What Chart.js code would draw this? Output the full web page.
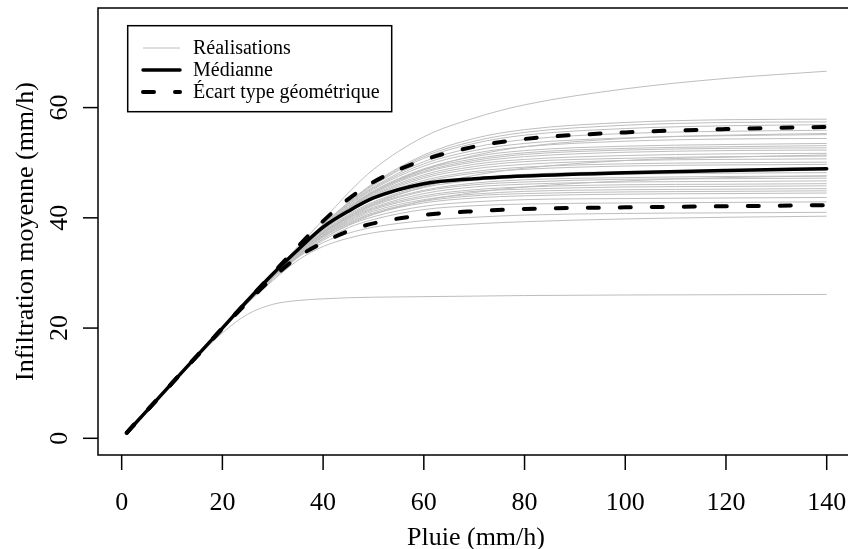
<!DOCTYPE html>
<html><head><meta charset="utf-8">
<script src="https://cdn.jsdelivr.net/npm/chart.js@4.4.0/dist/chart.umd.min.js"></script>
<style>html,body{margin:0;padding:0;background:#fff;}canvas{display:block;}</style>
</head><body>
<canvas id="c" width="848" height="549"></canvas>
<script>
// Pluie (mm/h) — abscissa grid shared by every curve
const pluie = [1, 10, 20, 25, 30, 35, 40, 45, 50, 60, 70, 80, 100, 120, 140];

// Médianne and geometric standard deviation envelope
const mediane  = [1, 10, 20, 25, 29.8, 34.2, 38.3, 41.2, 43.6, 46.2, 47.1, 47.6, 48.2, 48.6, 48.9];
const ecartSup = [1, 10, 20, 25, 29.9, 34.8, 39.4, 43.4, 46.5, 50.5, 52.9, 54.3, 55.5, 56.1, 56.5];
const ecartInf = [1, 10, 19.9, 24.7, 29.1, 32.9, 35.5, 37.6, 39.0, 40.5, 41.2, 41.6, 41.9, 42.1, 42.3];

// Réalisations (individual simulated curves)
const r01 = [1, 10, 20, 25, 29.9, 34.8, 39.6, 44.5, 48.8, 54.7, 58.1, 60.5, 63.4, 65.3, 66.6];
const r02 = [1, 10, 20, 24.9, 29.8, 34.4, 38.8, 42.8, 46.3, 51.4, 54.4, 56.0, 57.3, 57.8, 57.9];
const r03 = [1, 10, 20, 24.9, 29.8, 34.5, 38.8, 42.7, 46.1, 51.1, 53.9, 55.5, 56.8, 57.3, 57.4];
const r04 = [1, 10, 20, 24.9, 29.7, 34.4, 38.8, 42.6, 45.9, 50.8, 53.5, 55.0, 56.2, 56.7, 56.9];
const r05 = [1, 10, 20, 24.9, 29.7, 34.3, 38.6, 42.4, 45.6, 50.2, 52.8, 54.2, 55.3, 55.7, 55.9];
const r06 = [1, 10, 20, 24.9, 29.7, 34.3, 38.5, 42.3, 45.4, 49.8, 52.2, 53.5, 54.5, 54.9, 55.1];
const r07 = [1, 10, 20, 24.9, 29.7, 34.2, 38.4, 42.1, 45.2, 49.4, 51.7, 52.9, 53.9, 54.3, 54.4];
const r08 = [1, 10, 20, 24.9, 29.7, 34.2, 38.4, 41.9, 44.9, 48.9, 51.1, 52.2, 53.0, 53.3, 53.5];
const r09 = [1, 10, 20, 24.9, 29.7, 34.2, 38.3, 41.8, 44.8, 48.7, 50.7, 51.8, 52.6, 52.9, 53.1];
const r10 = [1, 10, 20, 24.9, 29.6, 34.1, 38.2, 41.7, 44.6, 48.4, 50.4, 51.5, 52.3, 52.6, 52.7];
const r11 = [1, 10, 20, 24.9, 29.6, 34.1, 38.2, 41.6, 44.4, 48.2, 50.1, 51.1, 51.9, 52.2, 52.3];
const r12 = [1, 10, 20, 24.9, 29.6, 34.1, 38.1, 41.5, 44.2, 47.8, 49.7, 50.6, 51.3, 51.6, 51.7];
const r13 = [1, 10, 20, 24.9, 29.6, 34.0, 38.0, 41.3, 44.0, 47.5, 49.3, 50.2, 50.8, 51.1, 51.2];
const r14 = [1, 10, 20, 24.9, 29.6, 34.0, 37.9, 41.2, 43.8, 47.2, 48.9, 49.7, 50.4, 50.6, 50.7];
const r15 = [1, 10, 20, 24.9, 29.6, 34.0, 37.8, 41.0, 43.6, 46.8, 48.4, 49.2, 49.8, 50.0, 50.1];
const r16 = [1, 10, 20, 24.8, 29.6, 33.9, 37.7, 40.9, 43.4, 46.5, 48.1, 48.8, 49.4, 49.6, 49.7];
const r17 = [1, 10, 20, 24.8, 29.5, 33.8, 37.5, 40.6, 42.9, 45.8, 47.2, 47.9, 48.4, 48.6, 48.7];
const r18 = [1, 10, 20, 24.8, 29.4, 33.7, 37.4, 40.4, 42.7, 45.5, 46.8, 47.4, 47.9, 48.1, 48.2];
const r19 = [1, 10, 19.9, 24.8, 29.4, 33.6, 37.3, 40.2, 42.4, 45.0, 46.3, 46.9, 47.3, 47.5, 47.6];
const r20 = [1, 10, 19.9, 24.8, 29.4, 33.6, 37.2, 40.0, 42.2, 44.8, 46.0, 46.5, 47.0, 47.1, 47.2];
const r21 = [1, 10, 19.9, 24.8, 29.4, 33.5, 37.1, 39.9, 41.9, 44.4, 45.6, 46.1, 46.5, 46.6, 46.7];
const r22 = [1, 10, 19.9, 24.8, 29.3, 33.5, 36.9, 39.7, 41.7, 44.0, 45.1, 45.6, 46.0, 46.1, 46.2];
const r23 = [1, 10, 19.9, 24.8, 29.3, 33.4, 36.8, 39.5, 41.5, 43.7, 44.8, 45.2, 45.6, 45.7, 45.8];
const r24 = [1, 10, 19.9, 24.7, 29.3, 33.3, 36.7, 39.3, 41.2, 43.3, 44.3, 44.8, 45.1, 45.2, 45.3];
const r25 = [1, 10, 19.9, 24.7, 29.2, 33.3, 36.6, 39.1, 40.9, 43.0, 44.0, 44.4, 44.7, 44.8, 44.9];
const r26 = [1, 10, 19.9, 24.7, 29.2, 33.2, 36.5, 38.9, 40.7, 42.7, 43.6, 44.0, 44.3, 44.4, 44.5];
const r27 = [1, 10, 19.9, 24.7, 29.1, 33.1, 36.2, 38.6, 40.2, 42.1, 42.9, 43.3, 43.5, 43.6, 43.7];
const r28 = [1, 10, 19.9, 24.7, 29.1, 32.9, 35.9, 38.2, 39.7, 41.5, 42.2, 42.5, 42.7, 42.8, 42.9];
const r29 = [1, 10, 19.9, 24.6, 28.8, 32.8, 35.5, 37.2, 38.3, 39.5, 40.1, 40.5, 40.8, 40.9, 41.0];
const r30 = [1, 10, 19.8, 24.5, 28.6, 32.3, 34.8, 36.3, 37.3, 38.3, 38.9, 39.3, 39.8, 40.1, 40.3];
const r31 = [1, 10, 19.1, 22.5, 24.3, 25.0, 25.3, 25.5, 25.6, 25.7, 25.8, 25.9, 26.0, 26.05, 26.1];
const r32 = [1, 10, 20, 24.8, 29.4, 33.6, 37.2, 40.2, 42.5, 45.6, 47.7, 49.0, 50.4, 51.0, 51.4];
const r33 = [1, 10, 19.9, 24.7, 29.1, 33.0, 36.2, 38.7, 40.6, 43.1, 44.6, 45.6, 46.7, 47.3, 47.6];
const r34 = [1, 10, 20, 24.8, 29.5, 34.0, 38.0, 41.6, 44.6, 48.7, 51.3, 52.9, 54.4, 55.0, 55.3];
const realisations = [r01, r02, r03, r04, r05, r06, r07, r08, r09, r10, r11, r12, r13, r14, r15, r16, r17,
  r18, r19, r20, r21, r22, r23, r24, r25, r26, r27, r28, r29, r30, r31, r32, r33, r34];

// Axis ticks and texts
const xTicks = [0, 20, 40, 60, 80, 100, 120, 140];
const yTicks = [0, 20, 40, 60];
const xTitle = 'Pluie (mm/h)';
const yTitle = 'Infiltration moyenne (mm/h)';
const legendLabels = ['Réalisations', 'Médianne', 'Écart type géométrique'];

const FONT = '"Liberation Serif", "Times New Roman", serif';
const toPts = arr => pluie.map((x, i) => ({ x: x, y: arr[i] }));

const datasets = [
  { label: legendLabels[1], data: toPts(mediane), borderColor: '#000', borderWidth: 3.5, order: 0,
    borderCapStyle: 'round', borderJoinStyle: 'round' },
  { label: legendLabels[2], data: toPts(ecartSup), borderColor: '#000', borderWidth: 4, order: 1,
    borderDash: [11, 21], borderCapStyle: 'round' },
  { label: legendLabels[2] + ' inf', data: toPts(ecartInf), borderColor: '#000', borderWidth: 4, order: 1,
    borderDash: [11, 21], borderCapStyle: 'round' }
];
realisations.forEach((r, i) => datasets.push({
  label: legendLabels[0] + ' ' + (i + 1), data: toPts(r), borderColor: '#bebebe', borderWidth: 1, order: 10
}));

const rStyle = {
  id: 'rStyle',
  beforeDraw(chart) {
    const c = chart.ctx;
    c.save(); c.fillStyle = '#fff'; c.fillRect(0, 0, chart.width, chart.height); c.restore();
  },
  afterDraw(chart) {
    const c = chart.ctx, xs = chart.scales.x, ys = chart.scales.y, ca = chart.chartArea;
    c.save();
    c.strokeStyle = '#000'; c.fillStyle = '#000'; c.lineWidth = 1.5; c.lineCap = 'butt';
    // plot box (right edge lies outside the canvas)
    c.beginPath();
    c.moveTo(chart.width + 2, ca.top); c.lineTo(ca.left, ca.top);
    c.lineTo(ca.left, ca.bottom); c.lineTo(chart.width + 2, ca.bottom);
    c.stroke();
    // x axis ticks + labels
    c.font = '26px ' + FONT; c.textAlign = 'center'; c.textBaseline = 'alphabetic';
    xTicks.forEach(v => {
      const px = xs.getPixelForValue(v);
      c.beginPath(); c.moveTo(px, ca.bottom); c.lineTo(px, ca.bottom + 15); c.stroke();
      c.fillText(String(v), px, 510);
    });
    // y axis ticks + rotated labels
    yTicks.forEach(v => {
      const py = ys.getPixelForValue(v);
      c.beginPath(); c.moveTo(ca.left - 15, py); c.lineTo(ca.left, py); c.stroke();
      c.save(); c.translate(67, py); c.rotate(-Math.PI / 2);
      c.fillText(String(v), 0, 0); c.restore();
    });
    // axis titles
    c.fillText(xTitle, 476, 545);
    c.save(); c.translate(33, (ca.top + ca.bottom) / 2); c.rotate(-Math.PI / 2);
    c.fillText(yTitle, 0, 0); c.restore();
    // legend
    c.fillStyle = '#fff'; c.fillRect(127.7, 25.7, 264, 86);
    c.lineWidth = 1.5; c.strokeRect(127.7, 25.7, 264, 86);
    const rows = [48, 70, 92];
    c.strokeStyle = '#bebebe'; c.lineWidth = 1; c.lineCap = 'butt';
    c.beginPath(); c.moveTo(143, rows[0]); c.lineTo(180, rows[0]); c.stroke();
    c.strokeStyle = '#000'; c.lineWidth = 3.5; c.lineCap = 'round';
    c.beginPath(); c.moveTo(143, rows[1]); c.lineTo(180, rows[1]); c.stroke();
    c.lineWidth = 4; c.setLineDash([11, 21]);
    c.beginPath(); c.moveTo(143, rows[2]); c.lineTo(180, rows[2]); c.stroke();
    c.setLineDash([]);
    c.fillStyle = '#000'; c.font = '20px ' + FONT; c.textAlign = 'left';
    legendLabels.forEach((t, i) => c.fillText(t, 193, rows[i] + 6));
    c.restore();
  }
};

new Chart(document.getElementById('c'), {
  type: 'line',
  data: { datasets: datasets },
  options: {
    responsive: false, animation: false, devicePixelRatio: 1,
    layout: { padding: { left: 98, top: 8, right: 0, bottom: 94 } },
    elements: { point: { radius: 0 }, line: { tension: 0, cubicInterpolationMode: 'monotone' } },
    plugins: { legend: { display: false }, tooltip: { enabled: false } },
    scales: {
      x: { type: 'linear', min: -4.7, max: 144.23, display: false },
      y: { type: 'linear', min: -3.03, max: 78.07, display: false }
    }
  },
  plugins: [rStyle]
});
</script>
</body></html>
